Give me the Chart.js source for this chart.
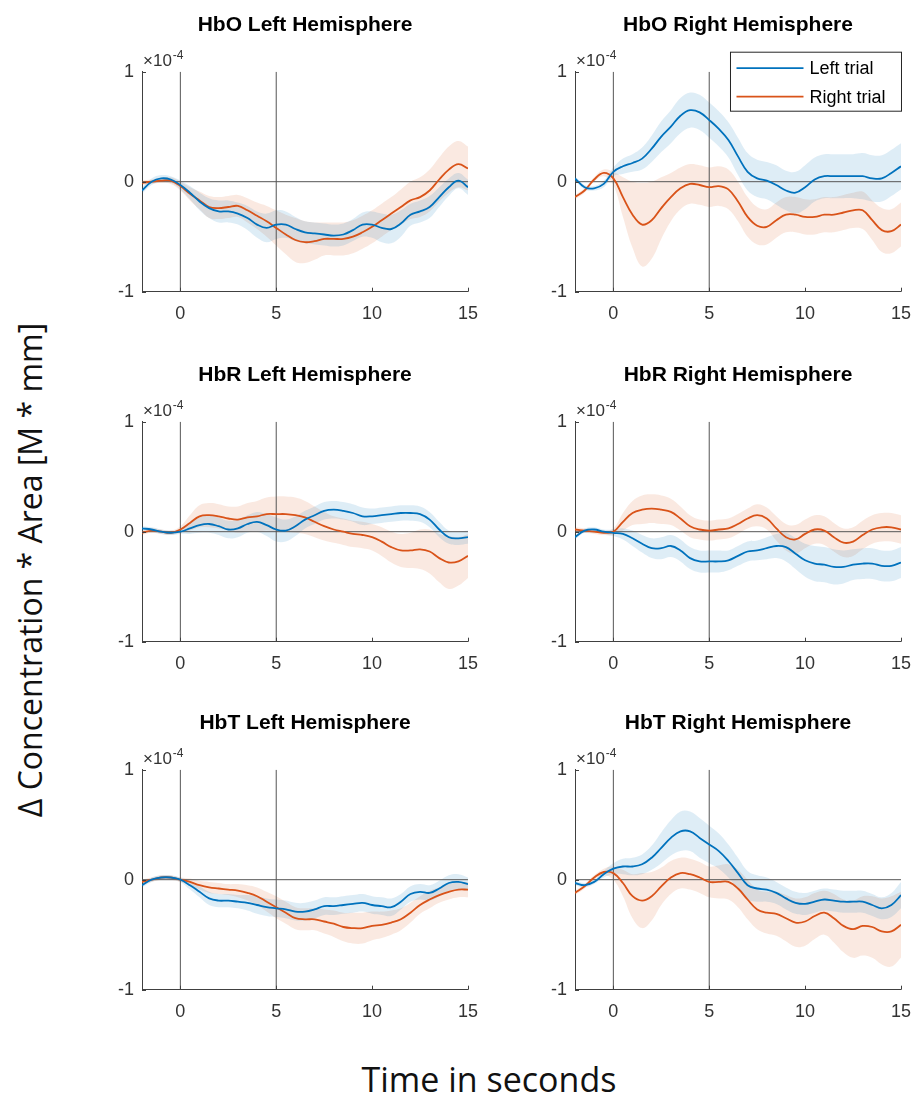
<!DOCTYPE html>
<html lang="en">
<head>
    <meta charset="UTF-8">
    <title>HbO / HbR / HbT block averages</title>
    <style>
        body {
            margin: 0;
            background: #fff;
            width: 916px;
            height: 1102px;
            position: relative;
            overflow: hidden;
        }
        .panel {
            position: absolute;
        }
        #ylab {
            position: absolute;
            left: -270px;
            top: 550px;
            width: 600px;
            height: 40px;
            line-height: 40px;
            text-align: center;
            font-family: "Open Sans", sans-serif;
            font-size: 32px;
            color: #111;
            transform: rotate(-90deg);
            white-space: nowrap;
        }
        #xlab {
            position: absolute;
            left: 289px;
            top: 1062px;
            width: 400px;
            line-height: 34px;
            text-align: center;
            font-family: "Open Sans", sans-serif;
            font-size: 34px;
            color: #111;
            white-space: nowrap;
        }
    </style>
</head>
<body>
    <canvas class="panel" id="c0" width="390" height="330" style="left:100px; top:0px;"></canvas>
    <canvas class="panel" id="c1" width="390" height="330" style="left:533px; top:0px;"></canvas>
    <canvas class="panel" id="c2" width="390" height="330" style="left:100px; top:350px;"></canvas>
    <canvas class="panel" id="c3" width="390" height="330" style="left:533px; top:350px;"></canvas>
    <canvas class="panel" id="c4" width="390" height="330" style="left:100px; top:698px;"></canvas>
    <canvas class="panel" id="c5" width="390" height="330" style="left:533px; top:698px;"></canvas>

    <div id="ylab">&Delta; Concentration * Area [M * mm]</div>
    <div id="xlab">Time in seconds</div>

    <script src="https://cdn.jsdelivr.net/npm/chart.js"></script>
    <script>
        // time axis (s) and tick labels
        const time = [-2, -1.5, -1, -0.5, 0, 0.5, 1, 1.5, 2, 2.5, 3, 3.5, 4, 4.5, 5, 5.5, 6, 6.5, 7, 7.5,
                      8, 8.5, 9, 9.5, 10, 10.5, 11, 11.5, 12, 12.5, 13, 13.5, 14, 14.5, 15];
        const xTicks = [0, 5, 10, 15];
        const yTicks = [-1, 0, 1];
        const eventLines = [0, 5];

        const titles = ['HbO Left Hemisphere', 'HbO Right Hemisphere',
                        'HbR Left Hemisphere', 'HbR Right Hemisphere',
                        'HbT Left Hemisphere', 'HbT Right Hemisphere'];
        const trialLabels = ['Left trial', 'Right trial'];

        // values in units of 1e-4 ; mean and half width of the shaded band
        const hboLeftL    = [-0.08, 0, 0.03, 0.02, -0.03, -0.10, -0.18, -0.24, -0.27, -0.27, -0.29, -0.33, -0.39, -0.42, -0.39, -0.39, -0.43, -0.46, -0.47, -0.48, -0.49, -0.48, -0.44, -0.39, -0.39, -0.42, -0.43, -0.38, -0.30, -0.27, -0.23, -0.14, -0.05, 0.01, -0.05];
        const hboLeftLErr = [0.03, 0.03, 0.03, 0.03, 0.04, 0.06, 0.08, 0.09, 0.1, 0.1, 0.1, 0.11, 0.12, 0.13, 0.13, 0.12, 0.11, 0.1, 0.1, 0.1, 0.1, 0.1, 0.1, 0.11, 0.12, 0.13, 0.13, 0.12, 0.1, 0.1, 0.1, 0.09, 0.08, 0.07, 0.07];
        const hboLeftR    = [-0.01, 0, 0.01, 0.01, -0.04, -0.11, -0.17, -0.23, -0.24, -0.23, -0.22, -0.26, -0.31, -0.36, -0.42, -0.48, -0.53, -0.55, -0.54, -0.52, -0.52, -0.52, -0.50, -0.46, -0.41, -0.35, -0.29, -0.23, -0.17, -0.14, -0.08, 0.02, 0.11, 0.16, 0.12];
        const hboLeftRErr = [0.02, 0.02, 0.02, 0.03, 0.04, 0.06, 0.08, 0.1, 0.1, 0.1, 0.1, 0.11, 0.12, 0.14, 0.16, 0.18, 0.2, 0.19, 0.17, 0.15, 0.15, 0.15, 0.15, 0.15, 0.15, 0.15, 0.15, 0.16, 0.17, 0.18, 0.19, 0.2, 0.21, 0.21, 0.2];

        const hboRightL    = [0.03, -0.05, -0.06, -0.02, 0.09, 0.14, 0.17, 0.21, 0.30, 0.41, 0.50, 0.60, 0.65, 0.63, 0.56, 0.48, 0.38, 0.23, 0.09, 0.03, 0.01, -0.03, -0.08, -0.10, -0.05, 0.02, 0.05, 0.05, 0.05, 0.05, 0.05, 0.03, 0.03, 0.08, 0.14];
        const hboRightLErr = [0.02, 0.02, 0.02, 0.03, 0.04, 0.07, 0.08, 0.1, 0.12, 0.14, 0.15, 0.16, 0.16, 0.16, 0.16, 0.16, 0.16, 0.17, 0.17, 0.17, 0.17, 0.18, 0.18, 0.19, 0.2, 0.2, 0.2, 0.2, 0.2, 0.2, 0.21, 0.21, 0.21, 0.21, 0.21];
        const hboRightR    = [-0.14, -0.08, 0.02, 0.08, 0.03, -0.14, -0.30, -0.39, -0.35, -0.24, -0.14, -0.06, -0.02, -0.03, -0.05, -0.04, -0.07, -0.18, -0.32, -0.40, -0.41, -0.35, -0.30, -0.30, -0.32, -0.32, -0.30, -0.30, -0.28, -0.26, -0.26, -0.35, -0.44, -0.45, -0.39];
        const hboRightRErr = [0.02, 0.02, 0.02, 0.03, 0.06, 0.18, 0.3, 0.38, 0.35, 0.28, 0.22, 0.19, 0.18, 0.18, 0.18, 0.18, 0.18, 0.18, 0.18, 0.17, 0.16, 0.16, 0.16, 0.16, 0.16, 0.16, 0.16, 0.16, 0.16, 0.16, 0.17, 0.18, 0.2, 0.2, 0.2];

        const hbrLeftL    = [0.03, 0.02, 0, -0.01, 0, 0.03, 0.06, 0.07, 0.05, 0.02, 0.03, 0.07, 0.09, 0.06, 0.02, 0.01, 0.05, 0.11, 0.15, 0.19, 0.20, 0.19, 0.17, 0.14, 0.14, 0.15, 0.16, 0.17, 0.17, 0.16, 0.11, 0.02, -0.05, -0.06, -0.05];
        const hbrLeftLErr = [0.02, 0.02, 0.02, 0.02, 0.02, 0.05, 0.07, 0.08, 0.08, 0.08, 0.08, 0.08, 0.09, 0.1, 0.11, 0.1, 0.09, 0.08, 0.08, 0.08, 0.08, 0.08, 0.08, 0.08, 0.07, 0.07, 0.07, 0.07, 0.07, 0.07, 0.07, 0.07, 0.06, 0.06, 0.06];
        const hbrLeftR    = [-0.01, 0.01, 0, -0.01, 0.02, 0.08, 0.14, 0.15, 0.14, 0.12, 0.11, 0.13, 0.14, 0.16, 0.16, 0.16, 0.15, 0.13, 0.09, 0.05, 0.02, 0, -0.02, -0.03, -0.05, -0.09, -0.14, -0.17, -0.17, -0.16, -0.18, -0.24, -0.28, -0.27, -0.22];
        const hbrLeftRErr = [0.02, 0.02, 0.02, 0.02, 0.03, 0.07, 0.1, 0.11, 0.11, 0.11, 0.12, 0.13, 0.14, 0.15, 0.16, 0.16, 0.16, 0.15, 0.14, 0.13, 0.12, 0.12, 0.12, 0.12, 0.12, 0.13, 0.14, 0.15, 0.16, 0.18, 0.2, 0.22, 0.24, 0.22, 0.2];

        const hbrRightL    = [-0.05, 0.01, 0.02, 0, -0.01, -0.02, -0.06, -0.11, -0.15, -0.15, -0.13, -0.17, -0.24, -0.27, -0.27, -0.27, -0.26, -0.22, -0.18, -0.17, -0.15, -0.13, -0.14, -0.20, -0.26, -0.29, -0.30, -0.32, -0.32, -0.30, -0.29, -0.29, -0.31, -0.31, -0.28];
        const hbrRightLErr = [0.02, 0.02, 0.02, 0.02, 0.03, 0.05, 0.07, 0.08, 0.09, 0.1, 0.1, 0.1, 0.1, 0.1, 0.1, 0.1, 0.09, 0.09, 0.09, 0.09, 0.1, 0.11, 0.13, 0.14, 0.15, 0.16, 0.16, 0.16, 0.15, 0.14, 0.14, 0.14, 0.14, 0.14, 0.14];
        const hbrRightR    = [0.02, 0.01, 0, -0.01, 0, 0.09, 0.17, 0.20, 0.21, 0.20, 0.18, 0.12, 0.05, 0.02, 0.01, 0.02, 0.03, 0.07, 0.12, 0.15, 0.12, 0.03, -0.05, -0.07, -0.02, 0.02, 0.01, -0.05, -0.10, -0.09, -0.03, 0.02, 0.04, 0.04, 0.02];
        const hbrRightRErr = [0.02, 0.02, 0.02, 0.02, 0.03, 0.08, 0.11, 0.13, 0.13, 0.13, 0.12, 0.11, 0.1, 0.09, 0.09, 0.09, 0.09, 0.09, 0.09, 0.1, 0.1, 0.11, 0.12, 0.13, 0.13, 0.13, 0.13, 0.13, 0.13, 0.13, 0.13, 0.13, 0.13, 0.13, 0.13];

        const hbtLeftL    = [-0.05, 0, 0.02, 0.02, 0, -0.05, -0.11, -0.17, -0.19, -0.19, -0.20, -0.21, -0.23, -0.25, -0.26, -0.27, -0.29, -0.29, -0.27, -0.24, -0.24, -0.23, -0.22, -0.21, -0.23, -0.24, -0.25, -0.20, -0.13, -0.11, -0.12, -0.08, -0.03, -0.02, -0.04];
        const hbtLeftLErr = [0.02, 0.02, 0.02, 0.02, 0.02, 0.04, 0.05, 0.06, 0.06, 0.06, 0.06, 0.07, 0.08, 0.08, 0.08, 0.08, 0.08, 0.08, 0.08, 0.08, 0.08, 0.08, 0.08, 0.08, 0.08, 0.08, 0.08, 0.07, 0.07, 0.07, 0.07, 0.07, 0.07, 0.07, 0.06];
        const hbtLeftR    = [-0.02, 0, 0.02, 0.02, 0, -0.02, -0.05, -0.07, -0.08, -0.09, -0.10, -0.12, -0.15, -0.20, -0.25, -0.30, -0.35, -0.36, -0.36, -0.38, -0.40, -0.43, -0.44, -0.44, -0.42, -0.41, -0.39, -0.36, -0.30, -0.23, -0.18, -0.14, -0.11, -0.09, -0.09];
        const hbtLeftRErr = [0.02, 0.02, 0.02, 0.02, 0.02, 0.03, 0.04, 0.05, 0.05, 0.05, 0.06, 0.07, 0.08, 0.09, 0.1, 0.1, 0.1, 0.1, 0.1, 0.11, 0.12, 0.13, 0.14, 0.14, 0.13, 0.12, 0.11, 0.1, 0.09, 0.08, 0.08, 0.07, 0.07, 0.07, 0.07];

        const hbtRightL    = [-0.03, -0.05, -0.02, 0.05, 0.10, 0.12, 0.12, 0.14, 0.20, 0.29, 0.38, 0.44, 0.44, 0.38, 0.32, 0.26, 0.17, 0.06, -0.05, -0.08, -0.09, -0.12, -0.17, -0.21, -0.22, -0.20, -0.18, -0.19, -0.20, -0.20, -0.20, -0.23, -0.26, -0.23, -0.14];
        const hbtRightLErr = [0.02, 0.02, 0.02, 0.03, 0.05, 0.07, 0.08, 0.09, 0.11, 0.14, 0.16, 0.18, 0.18, 0.18, 0.17, 0.16, 0.15, 0.14, 0.13, 0.12, 0.11, 0.1, 0.1, 0.1, 0.1, 0.1, 0.1, 0.1, 0.1, 0.1, 0.1, 0.1, 0.1, 0.11, 0.12];
        const hbtRightR    = [-0.12, -0.06, 0.02, 0.07, 0.06, -0.03, -0.15, -0.19, -0.15, -0.06, 0.02, 0.06, 0.05, 0.02, -0.02, -0.02, -0.02, -0.08, -0.18, -0.27, -0.30, -0.31, -0.35, -0.39, -0.38, -0.33, -0.30, -0.35, -0.42, -0.45, -0.42, -0.43, -0.47, -0.47, -0.41];
        const hbtRightRErr = [0.02, 0.02, 0.02, 0.03, 0.06, 0.12, 0.2, 0.25, 0.22, 0.17, 0.15, 0.14, 0.14, 0.14, 0.14, 0.15, 0.16, 0.17, 0.18, 0.18, 0.19, 0.2, 0.21, 0.22, 0.22, 0.21, 0.2, 0.22, 0.24, 0.26, 0.27, 0.28, 0.3, 0.32, 0.3];

        const panels = [
            [hboLeftL, hboLeftLErr, hboLeftR, hboLeftRErr],
            [hboRightL, hboRightLErr, hboRightR, hboRightRErr],
            [hbrLeftL, hbrLeftLErr, hbrLeftR, hbrLeftRErr],
            [hbrRightL, hbrRightLErr, hbrRightR, hbrRightRErr],
            [hbtLeftL, hbtLeftLErr, hbtLeftR, hbtLeftRErr],
            [hbtRightL, hbtRightLErr, hbtRightR, hbtRightRErr]
        ];

        const blue = '#0072BD';
        const orange = '#D95319';
        const blueBand = 'rgba(0, 114, 189, 0.13)';
        const orangeBand = 'rgba(217, 83, 25, 0.13)';
        const axisColor = '#404040';
        const textColor = '#333';
        const axisFont = '"Liberation Sans", Arial, Helvetica, sans-serif';

        // title, x10^-4 note, inward ticks and the legend box (matlab look)
        const matlabAxes = {
            id: 'matlabAxes',
            afterDraw(chart, args, opts) {
                const ctx = chart.ctx;
                const area = chart.chartArea;
                const xs = chart.scales.x;
                const ys = chart.scales.y;
                ctx.save();

                ctx.fillStyle = '#000';
                ctx.font = 'bold 21px ' + axisFont;
                ctx.textAlign = 'center';
                ctx.textBaseline = 'alphabetic';
                ctx.fillText(opts.title, (area.left + area.right) / 2, area.top - 41);

                ctx.fillStyle = textColor;
                ctx.textAlign = 'left';
                ctx.font = '17px ' + axisFont;
                ctx.fillText('\u00d710', area.left + 1, area.top - 6);
                const w = ctx.measureText('\u00d710').width;
                ctx.font = '12px ' + axisFont;
                ctx.fillText('-4', area.left + 2 + w, area.top - 13);

                ctx.strokeStyle = axisColor;
                ctx.lineWidth = 1;
                ctx.beginPath();
                xTicks.forEach(v => {
                    const px = Math.round(xs.getPixelForValue(v)) + 0.5;
                    ctx.moveTo(px, area.bottom);
                    ctx.lineTo(px, area.bottom - 4);
                });
                yTicks.forEach(v => {
                    const py = Math.round(ys.getPixelForValue(v)) + 0.5;
                    ctx.moveTo(area.left, py);
                    ctx.lineTo(area.left + 4, py);
                });
                ctx.stroke();

                if (opts.legend) {
                    const bx = area.right - 170.5, by = area.top - 19.5, bw = 171, bh = 59;
                    ctx.fillStyle = '#fff';
                    ctx.fillRect(bx, by, bw, bh);
                    ctx.strokeStyle = '#262626';
                    ctx.strokeRect(bx, by, bw, bh);
                    const cols = [blue, orange];
                    ctx.font = '18px ' + axisFont;
                    ctx.textBaseline = 'middle';
                    trialLabels.forEach((lab, i) => {
                        const ly = by + 16 + i * 28.5;
                        ctx.strokeStyle = cols[i];
                        ctx.lineWidth = 1.8;
                        ctx.beginPath();
                        ctx.moveTo(bx + 6, ly);
                        ctx.lineTo(bx + 73, ly);
                        ctx.stroke();
                        ctx.fillStyle = '#000';
                        ctx.fillText(lab, bx + 79, ly + 1);
                    });
                }
                ctx.restore();
            }
        };

        function pts(vals) {
            return time.map((t, i) => ({ x: t, y: vals[i] }));
        }

        function band(mean, err, sign) {
            return time.map((t, i) => ({ x: t, y: mean[i] + sign * err[i] }));
        }

        function makeChart(id, k) {
            const [mL, eL, mR, eR] = panels[k];
            const refStyle = { borderColor: '#555', borderWidth: 1, pointRadius: 0, fill: false, tension: 0, order: 1 };
            new Chart(document.getElementById(id), {
                type: 'line',
                data: {
                    datasets: [
                        { label: trialLabels[0], data: pts(mL), borderColor: blue, borderWidth: 1.8, pointRadius: 0, fill: false, tension: 0.4, order: 0 },
                        { label: trialLabels[1], data: pts(mR), borderColor: orange, borderWidth: 1.8, pointRadius: 0, fill: false, tension: 0.4, order: 0 },
                        Object.assign({ data: [{ x: eventLines[0], y: -1 }, { x: eventLines[0], y: 1 }] }, refStyle),
                        Object.assign({ data: [{ x: eventLines[1], y: -1 }, { x: eventLines[1], y: 1 }] }, refStyle),
                        Object.assign({ data: [{ x: -2, y: 0 }, { x: 15, y: 0 }] }, refStyle),
                        { data: band(mL, eL, 1), borderWidth: 0, pointRadius: 0, fill: false, tension: 0.4, order: 2 },
                        { data: band(mL, eL, -1), borderWidth: 0, pointRadius: 0, fill: '-1', backgroundColor: blueBand, tension: 0.4, order: 2 },
                        { data: band(mR, eR, 1), borderWidth: 0, pointRadius: 0, fill: false, tension: 0.4, order: 2 },
                        { data: band(mR, eR, -1), borderWidth: 0, pointRadius: 0, fill: '-1', backgroundColor: orangeBand, tension: 0.4, order: 2 }
                    ]
                },
                options: {
                    responsive: false,
                    animation: false,
                    events: [],
                    layout: { padding: { top: 71.7, right: 20, left: 0, bottom: 0 } },
                    plugins: {
                        legend: { display: false },
                        tooltip: { enabled: false },
                        matlabAxes: { title: titles[k], legend: k === 1 }
                    },
                    scales: {
                        x: {
                            type: 'linear',
                            min: -2,
                            max: 15,
                            afterBuildTicks: s => { s.ticks = xTicks.map(v => ({ value: v })); },
                            afterFit: s => { s.height = 38.3; },
                            grid: { display: false, drawTicks: false },
                            border: { display: true, color: axisColor, width: 1 },
                            ticks: { color: textColor, font: { family: axisFont, size: 18 }, padding: 12, maxRotation: 0, autoSkip: false }
                        },
                        y: {
                            min: -1,
                            max: 1,
                            afterBuildTicks: s => { s.ticks = yTicks.map(v => ({ value: v })); },
                            afterFit: s => { s.width = 42; },
                            grid: { display: false, drawTicks: false },
                            border: { display: true, color: axisColor, width: 1 },
                            ticks: { color: textColor, font: { family: axisFont, size: 18 }, padding: 8 }
                        }
                    }
                },
                plugins: [matlabAxes]
            });
        }

        for (let k = 0; k < 6; k++) {
            makeChart('c' + k, k);
        }
    </script>
</body>
</html>
